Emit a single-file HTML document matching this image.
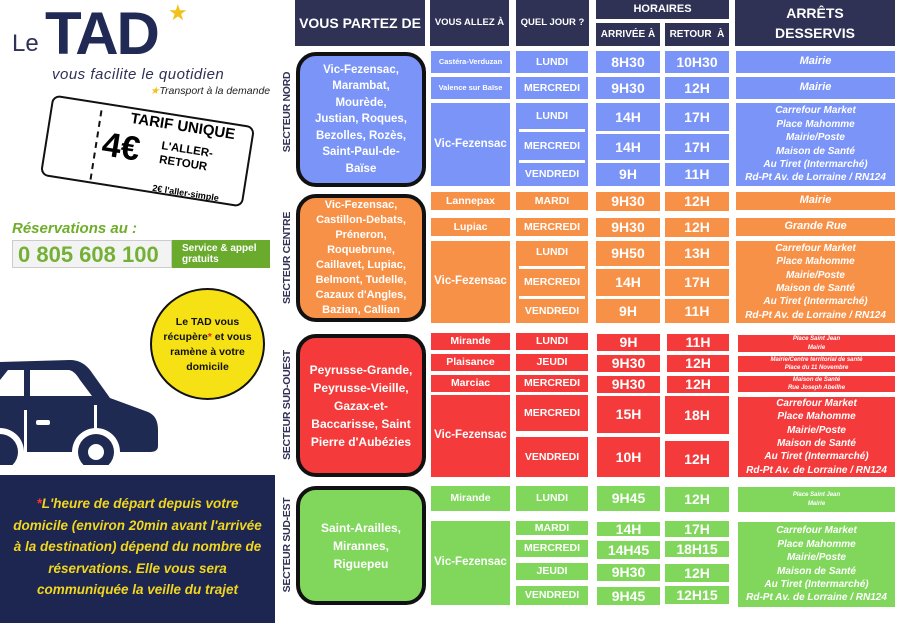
<!DOCTYPE html>
<html><head><meta charset="utf-8"><style>
*{margin:0;padding:0;box-sizing:border-box}
body{width:900px;height:637px;background:#fff;position:relative;overflow:hidden;font-family:"Liberation Sans",sans-serif}
.a{position:absolute;display:flex;align-items:center;justify-content:center;text-align:center;color:#fff;font-weight:bold;line-height:1.15;white-space:nowrap}
.h{background:#2f3155;font-size:13px}
.b{background:#7a94f7}.o{background:#f79148}.r{background:#f43a3a}.g{background:#80d75c}
.s{font-size:10.5px}.t{font-size:14px}
.i{font-style:italic;font-size:10px;line-height:13.4px}
.xs{font-style:italic;font-size:6px;line-height:8.5px}
.dep{position:absolute;left:296px;width:130px;border:4px solid #111;border-radius:20px;display:flex;align-items:center;justify-content:center;text-align:center;color:#fff;font-weight:bold;font-size:11.5px;line-height:16.5px}
.sec{position:absolute;left:287px;transform:translate(-50%,-50%) rotate(-90deg);white-space:nowrap;color:#2f3155;font-weight:bold;font-size:10.5px;letter-spacing:-0.3px}
.w{background:#fff}
</style></head><body>

<div style="position:absolute;left:12px;top:30px;font-size:24px;color:#2f3155">Le</div>
<div style="position:absolute;left:45px;top:4px;font-size:60px;font-weight:bold;color:#202a55;letter-spacing:-2px;line-height:60px">TAD</div>
<div style="position:absolute;left:168px;top:0;color:#f2c21b;font-size:22px">★</div>
<div style="position:absolute;left:52px;top:66px;font-size:15px;color:#2f3155;font-style:italic;letter-spacing:0.5px">vous facilite le quotidien</div>
<div style="position:absolute;left:150px;top:85px;font-size:10.5px;font-style:italic;color:#222"><span style="color:#f2c21b">★</span>Transport à la demande</div>

<div style="position:absolute;left:45px;top:110px;width:205px;height:82px;border:2px solid #111;border-radius:8px;transform:rotate(9deg)"></div>
<div style="position:absolute;left:95px;top:110px;width:0;height:70px;border-left:2px dashed #111;transform:rotate(9deg)"></div>
<div style="position:absolute;left:130px;top:118px;font-weight:bold;font-size:15px;transform:rotate(9deg)">TARIF UNIQUE</div>
<div style="position:absolute;left:102px;top:128px;font-weight:bold;font-size:34px;transform:rotate(9deg)">4€</div>
<div style="position:absolute;left:160px;top:143px;font-weight:bold;font-size:11.5px;line-height:14px;transform:rotate(9deg)">L'ALLER-<br>RETOUR</div>
<div style="position:absolute;left:152px;top:188px;font-weight:bold;font-size:9px;transform:rotate(9deg)">2€ l'aller-simple</div>

<div style="position:absolute;left:12px;top:220px;font-size:15px;font-weight:bold;font-style:italic;color:#6fae2a">Réservations au :</div>
<div style="position:absolute;left:12px;top:240px;width:160px;height:28px;border:1px solid #ccc;background:#f3f3f3;font-size:22px;font-weight:bold;color:#74b035;padding-left:5px;line-height:27px">0 805 608 100</div>
<div style="position:absolute;left:172px;top:240px;width:98px;height:28px;background:#6aab2e;color:#fff;font-size:10px;font-weight:bold;line-height:11px;padding:3px 0 0 10px">Service &amp; appel<br>gratuits</div>

<div style="position:absolute;left:150px;top:288px;width:115px;height:112px;border-radius:50%;background:#f6e114;border:2px solid #111;color:#111;font-size:10.5px;line-height:15px;font-weight:bold;text-align:center;padding-top:25px">Le TAD vous<br>récupère<span style="color:#e22">*</span> et vous<br>ramène à votre<br>domicile</div>

<svg style="position:absolute;left:0;top:340px" width="170" height="125" viewBox="0 0 170 125">
<path d="M0 22 L70 20 Q82 20 90 30 L110 58 L148 72 Q158 76 158 90 L158 106 Q158 112 150 112 L0 112 Z" fill="#1f2a52"/>
<path d="M8 30 L24 30 L24 56 L0 56 L0 40 Z M30 30 L68 30 Q74 30 80 40 L92 56 L30 56 Z" fill="#fff"/>
<rect x="24" y="70" width="3" height="45" fill="#fff"/><rect x="94" y="65" width="3" height="40" fill="#fff"/><rect x="36" y="80" width="14" height="5" rx="2" fill="#fff"/>
<circle cx="0" cy="112" r="24" fill="#fff"/><circle cx="0" cy="112" r="18" fill="#1f2a52"/>
<circle cx="96" cy="112" r="24" fill="#fff"/><circle cx="96" cy="112" r="18" fill="#1f2a52"/><circle cx="96" cy="112" r="8" fill="#fff"/>
</svg>

<div style="position:absolute;left:0;top:475px;width:275px;height:148px;background:#1c2650;color:#f2d61e;font-weight:bold;font-style:italic;font-size:13.5px;line-height:21.5px;text-align:center;padding:18px 8px 0"><span style="color:#f33">*</span>L'heure de départ depuis votre domicile (environ 20min avant l'arrivée à la destination) dépend du nombre de réservations. Elle vous sera communiquée la veille du trajet</div>

<div class="a h" style="left:295px;top:0;width:130px;height:46px;font-size:14px">VOUS PARTEZ DE</div>
<div class="a h" style="left:430px;top:0;width:79px;height:46px;font-size:9.5px">VOUS ALLEZ À</div>
<div class="a h" style="left:516px;top:0;width:73px;height:46px;font-size:9.5px">QUEL JOUR ?</div>
<div class="a h" style="left:596px;top:0;width:133px;height:19px;font-size:11px">HORAIRES</div>
<div class="a h" style="left:596px;top:23px;width:64px;height:23px;font-size:10px">ARRIVÉE À</div>
<div class="a h" style="left:665px;top:23px;width:64px;height:23px;font-size:10px">RETOUR &nbsp;À</div>
<div class="a h" style="left:735px;top:0;width:160px;height:46px;font-size:14px;line-height:20px">ARRÊTS<br>DESSERVIS</div>

<div class="sec" style="top:112px">SECTEUR NORD</div>
<div class="dep b" style="top:52px;height:135px">Vic-Fezensac,<br>Marambat,<br>Mourède,<br>Justian, Roques,<br>Bezolles, Rozès,<br>Saint-Paul-de-<br>Baïse</div>
<div class="a b" style="left:431px;top:51px;width:79px;height:22px;font-size:7.5px">Castéra-Verduzan</div>
<div class="a b s" style="left:516px;top:51px;width:72px;height:22px">LUNDI</div>
<div class="a b t" style="left:596px;top:51px;width:64px;height:22px">8H30</div>
<div class="a b t" style="left:665px;top:51px;width:64px;height:22px">10H30</div>
<div class="a b i" style="left:736px;top:51px;width:159px;height:22px;font-size:11px">Mairie</div>
<div class="a b" style="left:431px;top:77px;width:79px;height:22px;font-size:7.5px">Valence sur Baïse</div>
<div class="a b s" style="left:516px;top:77px;width:72px;height:22px">MERCREDI</div>
<div class="a b t" style="left:596px;top:77px;width:64px;height:22px">9H30</div>
<div class="a b t" style="left:665px;top:77px;width:64px;height:22px">12H</div>
<div class="a b i" style="left:736px;top:77px;width:159px;height:22px;font-size:11px">Mairie</div>
<div class="a b" style="left:431px;top:103px;width:79px;height:83px;font-size:11.5px">Vic-Fezensac</div>
<div class="a b" style="left:516px;top:103px;width:72px;height:83px"></div>
<div class="a b" style="left:596px;top:103px;width:64px;height:83px"></div>
<div class="a b" style="left:665px;top:103px;width:64px;height:83px"></div>
<div class="w" style="position:absolute;left:519px;top:129px;width:66px;height:3px"></div>
<div class="w" style="position:absolute;left:519px;top:160px;width:66px;height:3px"></div>
<div class="w" style="position:absolute;left:596px;top:131px;width:133px;height:3px"></div>
<div class="w" style="position:absolute;left:596px;top:160px;width:133px;height:3px"></div>
<div class="a s" style="left:516px;top:103px;width:72px;height:26px">LUNDI</div>
<div class="a s" style="left:516px;top:132px;width:72px;height:28px">MERCREDI</div>
<div class="a s" style="left:516px;top:163px;width:72px;height:23px">VENDREDI</div>
<div class="a t" style="left:596px;top:103px;width:64px;height:28px">14H</div>
<div class="a t" style="left:596px;top:134px;width:64px;height:26px">14H</div>
<div class="a t" style="left:596px;top:163px;width:64px;height:23px">9H</div>
<div class="a t" style="left:665px;top:103px;width:64px;height:28px">17H</div>
<div class="a t" style="left:665px;top:134px;width:64px;height:26px">17H</div>
<div class="a t" style="left:665px;top:163px;width:64px;height:23px">11H</div>
<div class="a b i" style="left:736px;top:103px;width:159px;height:83px">Carrefour Market<br>Place Mahomme<br>Mairie/Poste<br>Maison de Santé<br>Au Tiret (Intermarché)<br>Rd-Pt Av. de Lorraine / RN124</div>

<div class="sec" style="top:258px">SECTEUR CENTRE</div>
<div class="dep o" style="top:194px;height:128px;font-size:11px;line-height:15px">Vic-Fezensac,<br>Castillon-Debats,<br>Préneron,<br>Roquebrune,<br>Caillavet, Lupiac,<br>Belmont, Tudelle,<br>Cazaux d'Angles,<br>Bazian, Callian</div>
<div class="a o s" style="left:431px;top:192px;width:79px;height:18px">Lannepax</div>
<div class="a o s" style="left:516px;top:192px;width:72px;height:18px">MARDI</div>
<div class="a o t" style="left:596px;top:192px;width:64px;height:19px">9H30</div>
<div class="a o t" style="left:665px;top:192px;width:64px;height:19px">12H</div>
<div class="a o i" style="left:736px;top:192px;width:159px;height:18px;font-size:11px">Mairie</div>
<div class="a o s" style="left:431px;top:218px;width:79px;height:18px">Lupiac</div>
<div class="a o s" style="left:516px;top:218px;width:72px;height:18px">MERCREDI</div>
<div class="a o t" style="left:596px;top:218px;width:64px;height:19px">9H30</div>
<div class="a o t" style="left:665px;top:218px;width:64px;height:19px">12H</div>
<div class="a o i" style="left:736px;top:218px;width:159px;height:18px;font-size:11px">Grande Rue</div>
<div class="a o" style="left:431px;top:241px;width:79px;height:82px;font-size:11.5px">Vic-Fezensac</div>
<div class="a o" style="left:516px;top:241px;width:72px;height:82px"></div>
<div class="a o" style="left:596px;top:241px;width:64px;height:82px"></div>
<div class="a o" style="left:665px;top:241px;width:64px;height:82px"></div>
<div class="w" style="position:absolute;left:519px;top:266px;width:66px;height:3px"></div>
<div class="w" style="position:absolute;left:519px;top:296px;width:66px;height:3px"></div>
<div class="w" style="position:absolute;left:596px;top:266px;width:133px;height:3px"></div>
<div class="w" style="position:absolute;left:596px;top:296px;width:133px;height:3px"></div>
<div class="a s" style="left:516px;top:241px;width:72px;height:22px">LUNDI</div>
<div class="a s" style="left:516px;top:269px;width:72px;height:27px">MERCREDI</div>
<div class="a s" style="left:516px;top:299px;width:72px;height:24px">VENDREDI</div>
<div class="a t" style="left:596px;top:241px;width:64px;height:24px">9H50</div>
<div class="a t" style="left:596px;top:269px;width:64px;height:27px">14H</div>
<div class="a t" style="left:596px;top:299px;width:64px;height:24px">9H</div>
<div class="a t" style="left:665px;top:241px;width:64px;height:25px">13H</div>
<div class="a t" style="left:665px;top:269px;width:64px;height:27px">17H</div>
<div class="a t" style="left:665px;top:299px;width:64px;height:24px">11H</div>
<div class="a o i" style="left:736px;top:241px;width:159px;height:82px">Carrefour Market<br>Place Mahomme<br>Mairie/Poste<br>Maison de Santé<br>Au Tiret (Intermarché)<br>Rd-Pt Av. de Lorraine / RN124</div>

<div class="sec" style="top:405px">SECTEUR SUD-OUEST</div>
<div class="dep r" style="top:334px;height:143px;font-size:12px;line-height:18px">Peyrusse-Grande,<br>Peyrusse-Vieille,<br>Gazax-et-<br>Baccarisse, Saint<br>Pierre d'Aubézies</div>
<div class="a r s" style="left:431px;top:333px;width:79px;height:17px">Mirande</div>
<div class="a r s" style="left:516px;top:333px;width:72px;height:17px">LUNDI</div>
<div class="a r t" style="left:597px;top:334px;width:63px;height:17px">9H</div>
<div class="a r t" style="left:667px;top:334px;width:62px;height:17px">11H</div>
<div class="a r xs" style="left:738px;top:335px;width:157px;height:17px">Place Saint Jean<br>Mairie</div>
<div class="a r s" style="left:431px;top:354px;width:79px;height:17px">Plaisance</div>
<div class="a r s" style="left:516px;top:354px;width:72px;height:17px">JEUDI</div>
<div class="a r t" style="left:597px;top:355px;width:63px;height:17px">9H30</div>
<div class="a r t" style="left:667px;top:355px;width:62px;height:17px">12H</div>
<div class="a r xs" style="left:738px;top:356px;width:157px;height:16px">Mairie/Centre territorial de santé<br>Place du 11 Novembre</div>
<div class="a r s" style="left:431px;top:375px;width:79px;height:17px">Marciac</div>
<div class="a r s" style="left:516px;top:375px;width:72px;height:17px">MERCREDI</div>
<div class="a r t" style="left:597px;top:376px;width:63px;height:17px">9H30</div>
<div class="a r t" style="left:667px;top:376px;width:62px;height:17px">12H</div>
<div class="a r xs" style="left:738px;top:376px;width:157px;height:16px">Maison de Santé<br>Rue Joseph Abeilhe</div>
<div class="a r" style="left:431px;top:395px;width:79px;height:82px;font-size:11.5px">Vic-Fezensac</div>
<div class="a r s" style="left:516px;top:395px;width:72px;height:36px">MERCREDI</div>
<div class="a r s" style="left:516px;top:437px;width:72px;height:40px">VENDREDI</div>
<div class="a r t" style="left:597px;top:396px;width:63px;height:37px">15H</div>
<div class="a r t" style="left:597px;top:437px;width:63px;height:40px">10H</div>
<div class="a r t" style="left:665px;top:396px;width:64px;height:38px">18H</div>
<div class="a r t" style="left:665px;top:441px;width:64px;height:36px">12H</div>
<div class="a r i" style="left:738px;top:397px;width:157px;height:80px">Carrefour Market<br>Place Mahomme<br>Mairie/Poste<br>Maison de Santé<br>Au Tiret (Intermarché)<br>Rd-Pt Av. de Lorraine / RN124</div>

<div class="sec" style="top:545px">SECTEUR SUD-EST</div>
<div class="dep g" style="top:486px;height:119px;font-size:12px;line-height:18px">Saint-Arailles,<br>Mirannes,<br>Riguepeu</div>
<div class="a g s" style="left:431px;top:486px;width:79px;height:25px">Mirande</div>
<div class="a g s" style="left:516px;top:486px;width:72px;height:25px">LUNDI</div>
<div class="a g t" style="left:597px;top:486px;width:63px;height:25px">9H45</div>
<div class="a g t" style="left:665px;top:487px;width:64px;height:25px">12H</div>
<div class="a g xs" style="left:738px;top:487px;width:157px;height:25px">Place Saint Jean<br>Mairie</div>
<div class="a g" style="left:431px;top:521px;width:79px;height:84px;font-size:11.5px">Vic-Fezensac</div>
<div class="a g s" style="left:516px;top:521px;width:72px;height:14px">MARDI</div>
<div class="a g s" style="left:516px;top:540px;width:72px;height:17px">MERCREDI</div>
<div class="a g s" style="left:516px;top:563px;width:72px;height:17px">JEUDI</div>
<div class="a g s" style="left:516px;top:586px;width:72px;height:19px">VENDREDI</div>
<div class="a g t" style="left:597px;top:522px;width:63px;height:14px">14H</div>
<div class="a g t" style="left:597px;top:541px;width:63px;height:18px">14H45</div>
<div class="a g t" style="left:597px;top:564px;width:63px;height:17px">9H30</div>
<div class="a g t" style="left:597px;top:587px;width:63px;height:18px">9H45</div>
<div class="a g t" style="left:665px;top:521px;width:64px;height:16px">17H</div>
<div class="a g t" style="left:665px;top:541px;width:64px;height:16px">18H15</div>
<div class="a g t" style="left:665px;top:564px;width:64px;height:18px">12H</div>
<div class="a g t" style="left:665px;top:586px;width:64px;height:18px">12H15</div>
<div class="a g i" style="left:738px;top:522px;width:157px;height:85px">Carrefour Market<br>Place Mahomme<br>Mairie/Poste<br>Maison de Santé<br>Au Tiret (Intermarché)<br>Rd-Pt Av. de Lorraine / RN124</div>
</body></html>
